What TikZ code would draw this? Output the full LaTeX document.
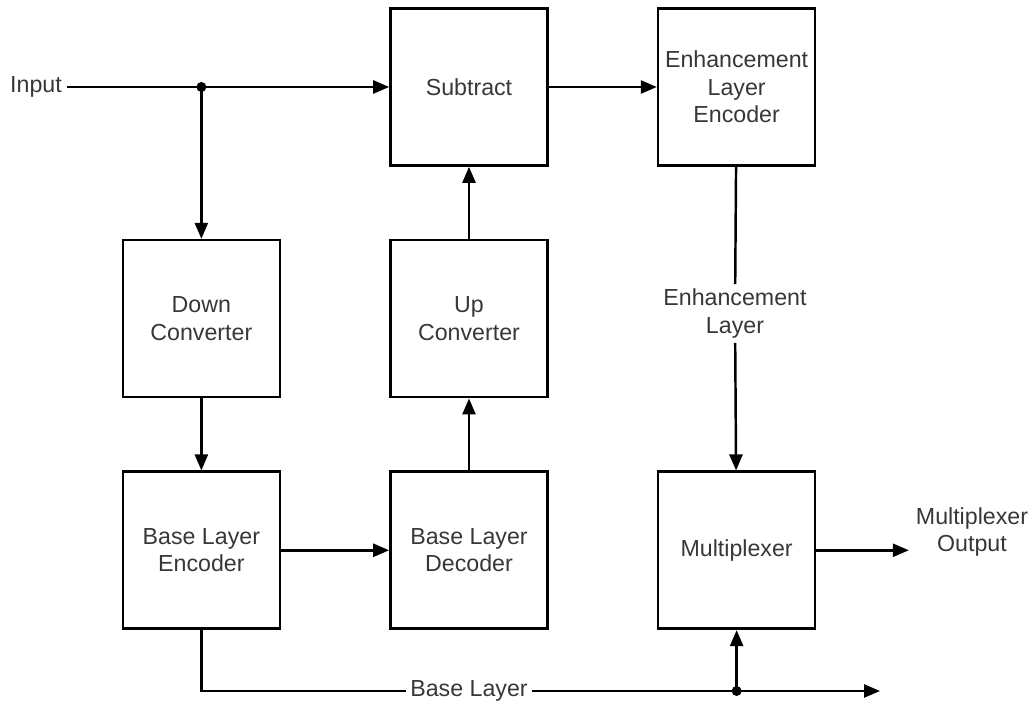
\documentclass[tikz,border=0pt]{standalone}
\usepackage{fontspec}
\setmainfont{Liberation Sans}
\usetikzlibrary{arrows.meta,positioning}
\definecolor{lblgray}{RGB}{55,55,55}

\begin{document}
\begin{tikzpicture}[font=\fontsize{13.2}{15.6}\selectfont,line width=1.4pt,
    >={Triangle[length=0.32cm,width=0.26cm]},
    node distance=1.44cm and 2.16cm,
    every node/.style={align=center,text=lblgray},
    blk/.style={draw=black,line width=1.5pt,minimum width=3.14cm,minimum height=3.14cm}]
    \useasboundingbox (0,0) rectangle (20.66,-14.04);
    \node[blk] (sub) at (9.38,-1.74) {Subtract};
    \node[blk,right=of sub] (enh) {Enhancement\\Layer\\Encoder};
    \node[blk,below=of sub] (up) {Up\\Converter};
    \node[blk,left=of up] (down) {Down\\Converter};
    \node[blk,below=of up] (dec) {Base Layer\\Decoder};
    \node[blk,below=of down] (enc) {Base Layer\\Encoder};
    \node[blk,below=of up,right=of dec] (mux) {Multiplexer};
    \node[inner xsep=2pt] (in) at (0.72,-1.74) {Input};
    \node[inner ysep=2pt] (el) at (14.70,-6.27) {Enhancement\\Layer};
    \node[inner xsep=1.5pt] (bl) at (9.38,-13.82) {Base Layer};
    \node (out) at (19.44,-10.64) {Multiplexer\\Output};
    \coordinate (split) at (down |- in);
    \coordinate (tap) at (mux |- bl);
    \coordinate (blend) at (17.6,-13.82);
    \draw[->] (in) -- (sub); \fill (split) circle (0.1);
    \draw[->] (split) -- (down); \draw[->] (down) -- (enc);
    \draw[->] (enc) -- (dec); \draw[->] (dec) -- (up); \draw[->] (up) -- (sub);
    \draw[->] (sub) -- (enh); \draw (enh) -- (el); \draw[->] (el) -- (mux);
    \draw[->] (mux) -- (mux -| out.west);
    \draw (enc) |- (bl); \draw[->] (bl) -- (blend);
    \fill (tap) circle (0.1); \draw[->] (tap) -- (mux);
  \end{tikzpicture}
\end{document}
